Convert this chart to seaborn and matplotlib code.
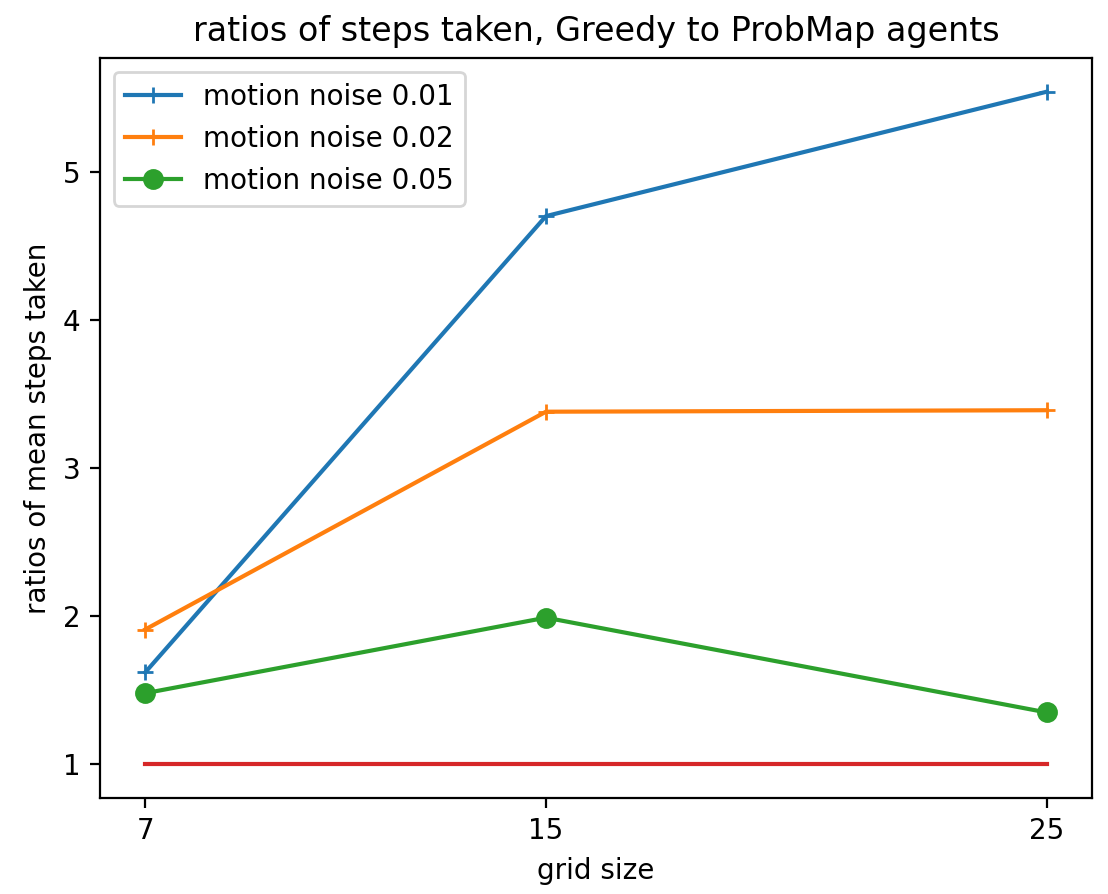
import matplotlib
matplotlib.use("Agg")
import matplotlib.pyplot as plt
import seaborn as sns

# ---------- data ----------
grid_sizes = [7, 15, 25]
noise_001 = [1.62, 4.70, 5.54]
noise_002 = [1.91, 3.38, 3.39]
noise_005 = [1.48, 1.99, 1.35]
baseline = [1.0, 1.0, 1.0]

series_labels = ["motion noise 0.01", "motion noise 0.02", "motion noise 0.05"]

# ---------- plot ----------
colors = sns.color_palette("tab10")
fig = plt.figure(figsize=(1108 / 200, 894 / 200), dpi=200)
ax = fig.add_axes([0.0903, 0.1074, 0.8953, 0.8277])

sns.lineplot(x=grid_sizes, y=noise_001, marker="+", markersize=6,
             color=colors[0], markeredgecolor=colors[0], markeredgewidth=1.0,
             label=series_labels[0], ax=ax, linewidth=1.5)
sns.lineplot(x=grid_sizes, y=noise_002, marker="+", markersize=6,
             color=colors[1], markeredgecolor=colors[1], markeredgewidth=1.0,
             label=series_labels[1], ax=ax, linewidth=1.5)
sns.lineplot(x=grid_sizes, y=noise_005, marker="o", markersize=6.5,
             color=colors[2], markeredgecolor=colors[2], markeredgewidth=1.0,
             label=series_labels[2], ax=ax, linewidth=1.5)
sns.lineplot(x=grid_sizes, y=baseline, color=colors[3], ax=ax, linewidth=1.5)

ax.set_xticks(grid_sizes)
ax.set_xlabel("grid size")
ax.set_ylabel("ratios of mean steps taken")
ax.set_title("ratios of steps taken, Greedy to ProbMap agents")
ax.legend(loc="upper left")

fig.savefig("out.png", dpi=200)
plt.close("all")
